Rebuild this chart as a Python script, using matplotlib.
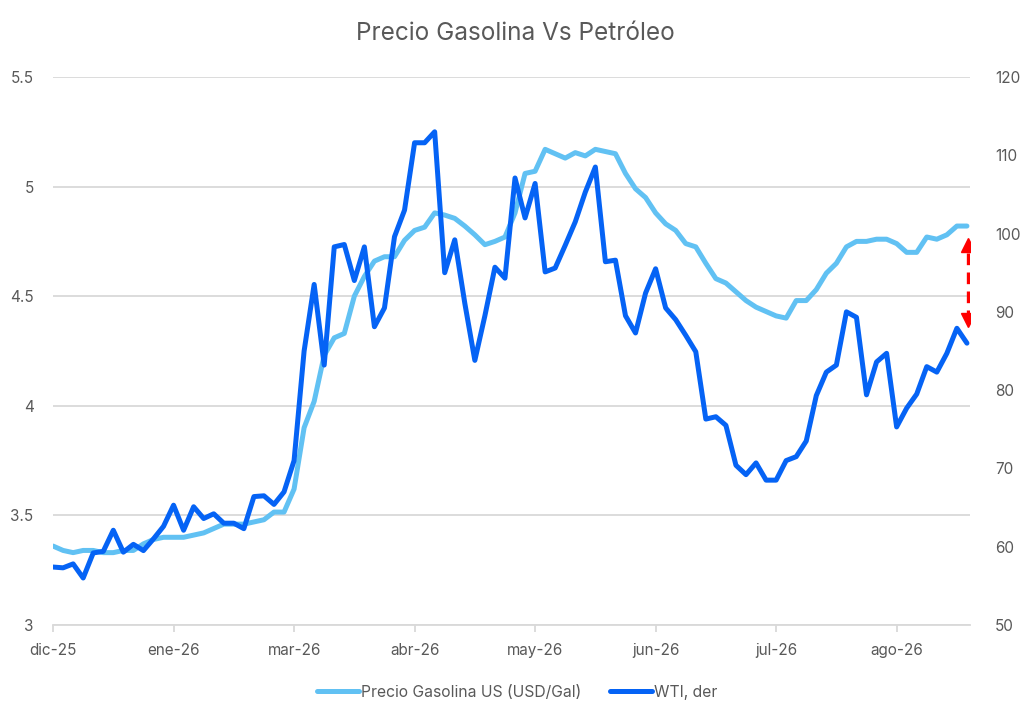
import numpy as np
import matplotlib.pyplot as plt
from matplotlib.ticker import FuncFormatter

plt.rcParams['font.family'] = ['Inter', 'DejaVu Sans']

# Precio gasolina US (USD/Gal), eje izquierdo
gasolina = [3.36, 3.34, 3.33, 3.34, 3.34, 3.33, 3.33, 3.34, 3.34, 3.37,
            3.39, 3.40, 3.40, 3.40, 3.41, 3.42, 3.44, 3.46, 3.46, 3.46,
            3.47, 3.48, 3.515, 3.515, 3.62, 3.90, 4.02, 4.23, 4.31, 4.33,
            4.50, 4.59, 4.66, 4.68, 4.68, 4.755, 4.80, 4.815, 4.88, 4.87,
            4.855, 4.82, 4.78, 4.735, 4.75, 4.77, 4.88, 5.06, 5.07, 5.17,
            5.15, 5.13, 5.155, 5.14, 5.17, 5.16, 5.15, 5.06, 4.99, 4.95,
            4.88, 4.83, 4.80, 4.74, 4.725, 4.65, 4.58, 4.56, 4.52, 4.48,
            4.45, 4.43, 4.41, 4.40, 4.48, 4.48, 4.53, 4.605, 4.65, 4.725,
            4.75, 4.75, 4.76, 4.76, 4.74, 4.70, 4.70, 4.77, 4.76, 4.78,
            4.82, 4.82]

# WTI (USD/bbl), eje derecho
wti = [57.4, 57.3, 57.8, 56.0, 59.2, 59.4, 62.1, 59.3, 60.3, 59.5,
       61.0, 62.6, 65.3, 62.1, 65.1, 63.6, 64.2, 63.0, 63.0, 62.3,
       66.4, 66.5, 65.4, 67.0, 71.0, 85.0, 93.5, 83.2, 98.3, 98.6,
       94.0, 98.3, 88.1, 90.5, 99.6, 103.0, 111.6, 111.6, 113.0, 95.0,
       99.2, 91.1, 83.8, 89.5, 95.7, 94.3, 107.1, 102.0, 106.4, 95.1,
       95.6, 98.5, 101.5, 105.3, 108.5, 96.4, 96.6, 89.5, 87.3, 92.4,
       95.5, 90.5, 89.0, 87.0, 84.9, 76.3, 76.6, 75.5, 70.4, 69.2,
       70.7, 68.5, 68.5, 71.0, 71.5, 73.5, 79.3, 82.3, 83.2, 90.0,
       89.3, 79.4, 83.6, 84.7, 75.3, 77.7, 79.5, 83.0, 82.3, 84.7,
       87.9, 86.0]

tick_pos = [0, 12, 24, 36, 48, 60, 72, 84]
tick_labels = ['dic-25', 'ene-26', 'mar-26', 'abr-26', 'may-26', 'jun-26', 'jul-26', 'ago-26']

x = np.arange(len(wti))

fig = plt.figure(figsize=(10.3, 7.21), dpi=100)
ax = fig.add_axes([0.0515, 0.1332, 0.8902, 0.76])
ax2 = ax.twinx()

gris = '#595959'

ax.plot(x, gasolina, color='#61C1F3', lw=3.6, solid_capstyle='round',
        solid_joinstyle='round', label='Precio Gasolina US (USD/Gal)')
ax2.plot(x, wti, color='#0563F5', lw=3.6, solid_capstyle='round',
         solid_joinstyle='round', label='WTI, der')

# flecha roja de brecha
xa = 91.1
ax2.plot([xa, xa], [97.5, 89.5], ls=(0, (3.5, 2.2)), color='red', lw=2.4)
ax2.plot(xa, 98.6, marker='^', ms=10.5, color='red', mec='red')
ax2.plot(xa, 89.0, marker='v', ms=10.5, color='red', mec='red')

ax.set_xlim(0, 91.3)
ax.set_ylim(3, 5.5)
ax2.set_ylim(50, 120)
ax.set_yticks([3, 3.5, 4, 4.5, 5, 5.5])
ax.yaxis.set_major_formatter(FuncFormatter(lambda v, p: f'{v:g}'))
ax2.set_yticks(range(50, 121, 10))

ax.set_xticks(tick_pos)
ax.set_xticklabels(tick_labels)

ax.grid(axis='y', color='#D9D9D9', lw=1.3)
ax.set_axisbelow(True)

for a in (ax, ax2):
    for s in ('top', 'left', 'right', 'bottom'):
        a.spines[s].set_visible(False)
ax.spines['bottom'].set_visible(True)
ax.spines['bottom'].set_color('#D9D9D9')
ax.spines['bottom'].set_linewidth(1.3)

ax.tick_params(axis='x', colors='#D9D9D9', labelcolor=gris, labelsize=11,
               length=5, width=1.3, pad=8)
ax.tick_params(axis='y', length=0, labelcolor=gris, labelsize=11, pad=14)
ax2.tick_params(axis='y', length=0, labelcolor=gris, labelsize=11, pad=18)

fig.suptitle('Precio Gasolina Vs Petróleo', x=0.5, y=0.97, fontsize=17.5,
             color=gris)

h1, l1 = ax.get_legend_handles_labels()
h2, l2 = ax2.get_legend_handles_labels()
fig.legend(h1 + h2, l1 + l2, loc='center', bbox_to_anchor=(0.502, 0.04),
           ncol=2, frameon=False, fontsize=11.3, labelcolor=gris,
           handlelength=2.7, handletextpad=0.1, columnspacing=1.8)

fig.savefig('out.png', dpi=100)
